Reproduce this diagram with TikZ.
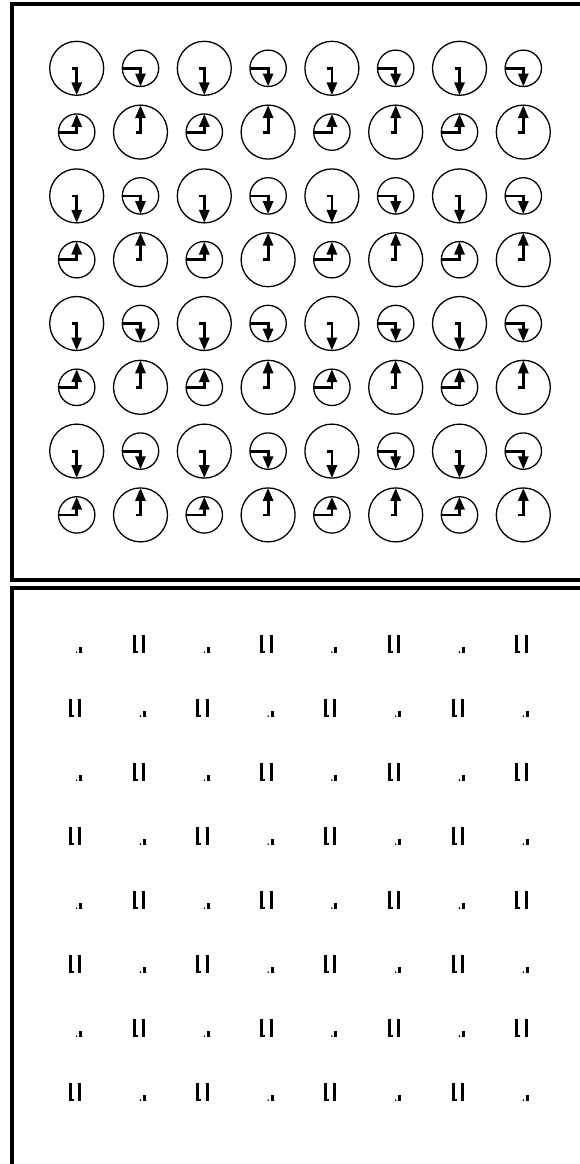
\documentclass[tikz,border=0pt]{standalone}
\usetikzlibrary{arrows.meta}
\begin{document}
\begin{tikzpicture}[x=1pt,y=-1pt,
  ring/.style={line width=1.3pt},
  vec/.style={line width=2.8pt,-{Triangle[length=13pt,width=10pt]},line join=miter},
  frame/.style={line width=3.4pt},
  glyph/.style={fill=black}]
\useasboundingbox (0,0) rectangle (579,1164);
\fill[white] (0,0) rectangle (579,1164);
\draw[frame] (12,4) rectangle (600,580);
\draw[frame] (12,588) rectangle (600,1200);
\foreach \i in {0,...,7}{
  \foreach \j in {0,...,7}{
    \pgfmathsetmacro\cx{76.7+63.8*\i}
    \pgfmathsetmacro\cy{68.3+63.8*\j}
    \pgfmathtruncatemacro\pp{mod(\i+\j,2)}
    \pgfmathsetmacro\rr{\pp==0 ? 27 : 18.2}
    \pgfmathsetmacro\st{\pp==0 ? 5 : 18.2}
    \pgfmathsetmacro\dr{mod(\j,2)==0 ? 1 : -1}
    \draw[ring] (\cx,\cy) circle[radius=\rr];
    \draw[vec] (\cx-\st,\cy) -- (\cx,\cy) -- (\cx,\cy+\dr*\rr);
    \pgfmathsetmacro\bx{76.7+63.8*\i}
    \pgfmathsetmacro\by{653+64*\j}
    \ifnum\pp=0
      \fill[glyph] (\bx,\by-0.9) circle[radius=0.9];
      \fill[glyph] (\bx+2.5,\by) rectangle (\bx+5.5,\by-6.5);
    \else
      \fill[glyph] (\bx-8,\by) rectangle (\bx-5,\by-18);
      \fill[glyph] (\bx-8,\by) rectangle (\bx-3,\by-2.5);
      \fill[glyph] (\bx+1.5,\by) rectangle (\bx+4.5,\by-18);
    \fi
  }
}
\end{tikzpicture}
\end{document}
